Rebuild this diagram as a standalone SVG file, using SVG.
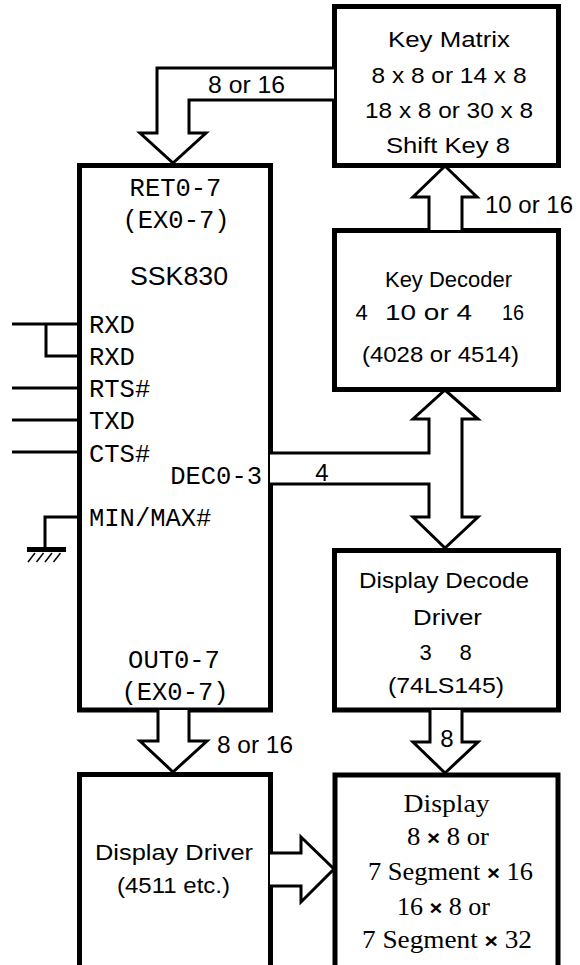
<svg xmlns="http://www.w3.org/2000/svg" width="580" height="965" viewBox="0 0 580 965">
<style>
.box{fill:#fff;stroke:#000;stroke-width:5}
.ln{fill:none;stroke:#000;stroke-width:3}
.arr{fill:#fff;stroke:#000;stroke-width:3;stroke-linejoin:miter}
.s{font-family:"Liberation Sans",Arial,sans-serif;font-size:22px;text-anchor:middle;fill:#000}
.l{font-family:"Liberation Sans",Arial,sans-serif;font-size:24px;fill:#000}
.m{font-family:"Liberation Mono","Courier New",monospace;font-size:25.5px;fill:#000}
.mc{font-family:"Liberation Mono","Courier New",monospace;font-size:25.5px;fill:#000;text-anchor:middle}
.t{font-family:"Liberation Serif","Times New Roman",serif;font-size:25px;text-anchor:middle;fill:#000}
.x{font-family:"Liberation Sans",Arial,sans-serif;font-weight:bold;font-size:21px}
</style>
<rect width="580" height="965" fill="#fff"/>

<g id="keymatrix">
<rect class="box" x="334.5" y="6.5" width="224" height="159"/>
<text class="s" x="449" y="47" textLength="122" lengthAdjust="spacingAndGlyphs">Key Matrix</text>
<text class="s" x="449" y="83" textLength="155" lengthAdjust="spacingAndGlyphs">8 x 8 or 14 x 8</text>
<text class="s" x="449" y="118" textLength="168" lengthAdjust="spacingAndGlyphs">18 x 8 or 30 x 8</text>
<text class="s" x="448" y="153" textLength="124" lengthAdjust="spacingAndGlyphs">Shift Key  8</text>
</g>

<g id="keydecoder">
<rect class="box" x="334.5" y="230.5" width="224" height="159"/>
<text class="s" x="448.5" y="287" textLength="127" lengthAdjust="spacingAndGlyphs">Key Decoder</text>
<text class="s" x="361.5" y="320">4</text>
<text class="s" x="428.5" y="320" textLength="87" lengthAdjust="spacingAndGlyphs">10 or 4</text>
<text class="s" x="513" y="320" textLength="22" lengthAdjust="spacingAndGlyphs">16</text>
<text class="s" x="440.5" y="362" textLength="157" lengthAdjust="spacingAndGlyphs">(4028 or 4514)</text>
</g>

<g id="ssk830">
<rect class="box" x="79.5" y="165.5" width="191" height="544.5"/>
<text class="mc" x="175.5" y="196">RET0-7</text>
<text class="mc" x="176" y="228">(EX0-7)</text>
<text class="s" x="179" y="285" style="font-size:25px" textLength="98" lengthAdjust="spacingAndGlyphs">SSK830</text>
<text class="m" x="89" y="333">RXD</text>
<text class="m" x="89" y="365">RXD</text>
<text class="m" x="89" y="397">RTS#</text>
<text class="m" x="89" y="429">TXD</text>
<text class="m" x="89" y="462">CTS#</text>
<text class="m" x="262" y="484" text-anchor="end">DEC0-3</text>
<text class="m" x="89" y="526">MIN/MAX#</text>
<text class="mc" x="174" y="668">OUT0-7</text>
<text class="mc" x="175" y="700">(EX0-7)</text>
</g>

<g id="displaydecoder">
<rect class="box" x="334.5" y="550.5" width="224" height="159.5"/>
<text class="s" x="444" y="588" textLength="170" lengthAdjust="spacingAndGlyphs">Display Decode</text>
<text class="s" x="447.5" y="625" textLength="69" lengthAdjust="spacingAndGlyphs">Driver</text>
<text class="s" x="425.5" y="660">3</text>
<text class="s" x="465.5" y="660">8</text>
<text class="s" x="446" y="693" textLength="116" lengthAdjust="spacingAndGlyphs">(74LS145)</text>
</g>

<g id="displaydriver">
<rect class="box" x="79.5" y="774.5" width="191" height="193"/>
<text class="s" x="174" y="860" textLength="158" lengthAdjust="spacingAndGlyphs">Display Driver</text>
<text class="s" x="173.5" y="893" textLength="113" lengthAdjust="spacingAndGlyphs">(4511 etc.)</text>
</g>

<g id="display">
<rect class="box" x="335" y="775" width="223" height="193"/>
<text class="t" x="446.5" y="812" textLength="86" lengthAdjust="spacingAndGlyphs">Display</text>
<text class="t" x="448" y="845" textLength="82" lengthAdjust="spacingAndGlyphs">8 <tspan class="x">×</tspan> 8 or</text>
<text class="t" x="450.5" y="880" textLength="165" lengthAdjust="spacingAndGlyphs">7 Segment <tspan class="x">×</tspan> 16</text>
<text class="t" x="443.5" y="915" textLength="93" lengthAdjust="spacingAndGlyphs">16 <tspan class="x">×</tspan> 8 or</text>
<text class="t" x="447" y="948" textLength="170" lengthAdjust="spacingAndGlyphs">7 Segment <tspan class="x">×</tspan>  32</text>
</g>

<g id="ground">
<polyline class="ln" points="79,517 45,517 45,548"/>
<line x1="27" y1="549.5" x2="66" y2="549.5" stroke="#000" stroke-width="5"/>
<g stroke="#000" stroke-width="1.5">
<line x1="28" y1="562" x2="35" y2="553"/>
<line x1="36.5" y1="562" x2="43.5" y2="553"/>
<line x1="45" y1="562" x2="52" y2="553"/>
<line x1="53.5" y1="562" x2="60.5" y2="553"/>
</g>
</g>

<g id="connectors">
<polyline class="arr" points="334,68 157,68 157,133 140,133 173,163 206,133 189,133 189,100 334,100"/>
<polyline class="arr" points="429,230 429,197 413,197 445,166 477,197 462,197 462,230"/>
<polyline class="arr" points="270,453 429,453 429,419 413,419 445,390 478,419 462,419 462,517 478,517 445,548 413,517 429,517 429,484 270,484"/>
<polyline class="arr" points="158,710 158,741 140,741 173,772 207,741 189,741 189,710"/>
<polyline class="arr" points="430,710 430,742 413,742 445,773 478,742 462,742 462,710"/>
<polyline class="arr" points="270,853 301,853 301,837 334,869 301,902 301,886 270,886"/>
<polyline class="ln" points="12,324 79,324"/>
<polyline class="ln" points="46,324 46,356 79,356"/>
<line class="ln" x1="12" y1="388" x2="79" y2="388"/>
<line class="ln" x1="12" y1="420" x2="79" y2="420"/>
<line class="ln" x1="12" y1="452" x2="79" y2="452"/>
<text class="l" x="208" y="93" textLength="77" lengthAdjust="spacingAndGlyphs">8 or 16</text>
<text class="l" x="485" y="213" textLength="88" lengthAdjust="spacingAndGlyphs">10 or 16</text>
<text class="l" x="322" y="481" text-anchor="middle">4</text>
<text class="l" x="447" y="747" text-anchor="middle">8</text>
<text class="l" x="217" y="753" textLength="76" lengthAdjust="spacingAndGlyphs">8 or 16</text>
</g>
</svg>
